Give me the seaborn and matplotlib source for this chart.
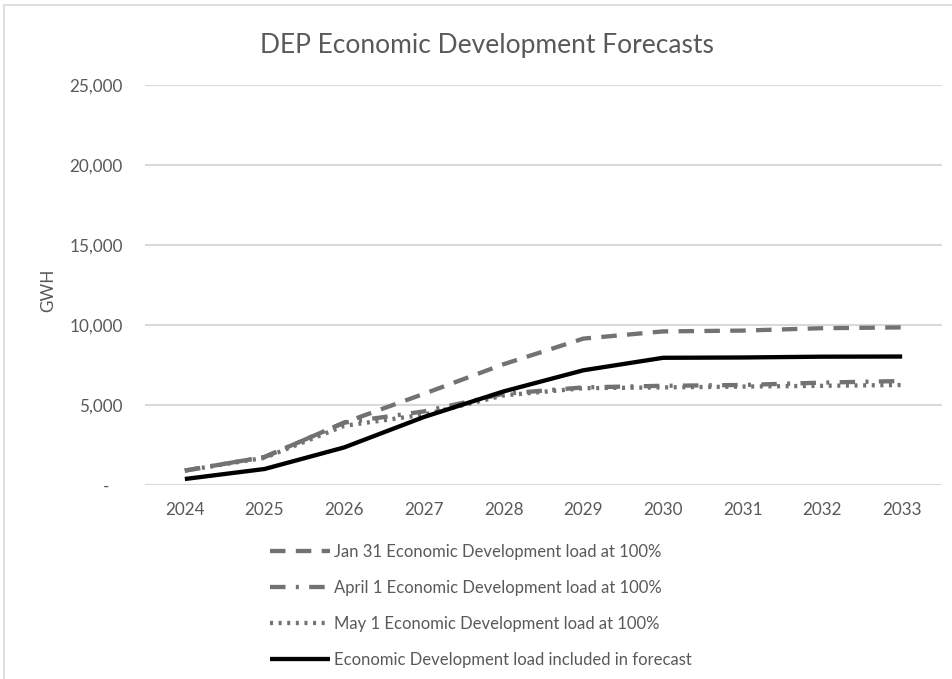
import matplotlib
matplotlib.use("Agg")
import matplotlib.pyplot as plt
import seaborn as sns
import pandas as pd
from matplotlib.ticker import FuncFormatter
from matplotlib.lines import Line2D

years = [2024, 2025, 2026, 2027, 2028, 2029, 2030, 2031, 2032, 2033]
jan31 = [900, 1750, 3900, 5700, 7550, 9150, 9600, 9650, 9800, 9850]
april1 = [900, 1750, 3900, 4600, 5700, 6100, 6200, 6250, 6400, 6500]
may1 = [900, 1700, 3700, 4400, 5600, 6050, 6100, 6150, 6200, 6250]
included = [375, 1000, 2350, 4250, 5850, 7170, 7950, 7970, 8020, 8030]

labels = [
    "Jan 31 Economic Development load at 100%",
    "April 1 Economic Development load at 100%",
    "May 1 Economic Development load at 100%",
    "Economic Development load included in forecast",
]
title = "DEP Economic Development Forecasts"
ylabel = "GWH"
yticks = [0, 5000, 10000, 15000, 20000, 25000]

sns.set_theme(style="white")
plt.rcParams["font.family"] = ["Lato", "DejaVu Sans"]

W, H = 952, 679
fig = plt.figure(figsize=(W / 100, H / 100), dpi=100)
ax = fig.add_axes([145 / W, 1 - 485 / H, (942 - 145) / W, (485 - 85) / H])

grey = "#767171"
txt = "#595959"

styles = [
    dict(color=grey, lw=3.1, dashes=(3.6, 2.4)),
    dict(color=grey, lw=3.1, dashes=(3.6, 2.4, 0.7, 2.4)),
    dict(color=grey, lw=3.1, dashes=(0.7, 1.3)),
    dict(color="black", lw=3.1),
]
series = [jan31, april1, may1, included]

for vals, lab, st in zip(series, labels, styles):
    df = pd.DataFrame({"year": years, "value": vals})
    st = dict(st)
    d = st.pop("dashes", None)
    sns.lineplot(data=df, x="year", y="value", ax=ax, label=lab,
                 color=st["color"], linewidth=st["lw"], legend=False)
    l = ax.lines[-1]
    if d is not None:
        l.set_dashes(d)
    l.set_solid_capstyle("butt")
    l.set_dash_capstyle("butt")

ax.set_xlim(2023.5, 2033.5)
ax.set_ylim(0, 25000)
ax.set_xticks(years)
ax.set_xticklabels([str(y) for y in years])
ax.set_yticks(yticks)
ax.yaxis.set_major_formatter(FuncFormatter(lambda v, p: "-   " if v == 0 else f"{int(v):,}"))
ax.grid(axis="y", color="#d9d9d9", linewidth=1.5)
ax.set_axisbelow(True)
for s in ax.spines.values():
    s.set_visible(False)
ax.tick_params(axis="both", length=0, labelsize=12.3, labelcolor=txt)
ax.tick_params(axis="y", pad=16)
ax.tick_params(axis="x", pad=12)
ax.set_xlabel("")
ax.set_ylabel(ylabel, color=txt, fontsize=12.3)
ax.yaxis.set_label_coords(-(145 - 56) / (942 - 145), (485 - 290) / 400)

fig.text(487 / W, 1 - 45 / H, title, ha="center", va="center", fontsize=19, color=txt)

handles = ax.lines[:4]
leg = fig.legend(handles, labels, loc="upper left", bbox_to_anchor=(270 / W, 1 - 544 / H),
                 frameon=False, fontsize=12, handlelength=3.6, handletextpad=0.25,
                 labelspacing=1.2, borderpad=0, borderaxespad=0)
for t in leg.get_texts():
    t.set_color(txt)

fig.add_artist(Line2D([4 / W, 4 / W], [0, 1 - 5 / H], color="#d9d9d9", lw=1.2, transform=fig.transFigure))
fig.add_artist(Line2D([4 / W, 1], [1 - 5 / H, 1 - 5 / H], color="#d9d9d9", lw=1.2, transform=fig.transFigure))

fig.savefig("out.png", dpi=100)
